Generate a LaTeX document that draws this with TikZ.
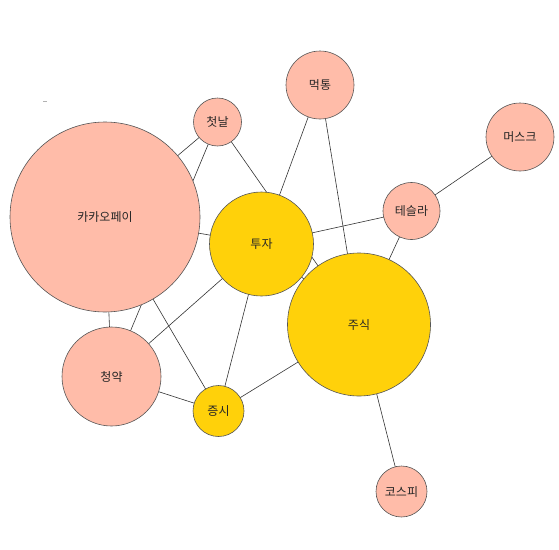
\documentclass[tikz,border=0pt]{standalone}
\usepackage{fontspec}
\setmainfont{Noto Sans CJK KR}
\definecolor{pinkfill}{HTML}{FFBCA9}
\definecolor{goldfill}{HTML}{FFD10A}
\definecolor{rim}{HTML}{555555}
\pgfdeclarelayer{bg}
\pgfsetlayers{bg,main}
\begin{document}
\begin{tikzpicture}[x=1pt,y=-1pt,
  vtx/.style={circle,draw=rim,line width=0.6pt,inner sep=0pt,text=black!85,font=\fontsize{12}{14}\selectfont},
  pinkv/.style={vtx,fill=pinkfill},
  goldv/.style={vtx,fill=goldfill},
  link/.style={draw=black!80,line width=0.6pt}]
\useasboundingbox (0,0) rectangle (559,549);
\node[pinkv,minimum size=190pt] (kakao) at (105,217) {카카오페이};
\node[pinkv,minimum size=48pt] (first) at (217.5,122) {첫날};
\node[pinkv,minimum size=68pt] (outage) at (320,85) {먹통};
\node[pinkv,minimum size=68pt] (musk) at (520,137) {머스크};
\node[pinkv,minimum size=57pt] (tesla) at (411.5,211) {테슬라};
\node[goldv,minimum size=104pt] (invest) at (261.5,244) {투자};
\node[goldv,minimum size=143pt] (stock) at (359,324.5) {주식};
\node[pinkv,minimum size=99pt] (sub) at (111.5,376.5) {청약};
\node[goldv,minimum size=51pt] (market) at (218.5,411) {증시};
\node[pinkv,minimum size=51pt] (kospi) at (401.5,491.5) {코스피};
\draw[gray!60,line width=0.8pt] (43,101) -- (47,101);
\begin{pgfonlayer}{bg}
\draw[link] (first.center) -- (kakao.center);
\draw[link] (first.center) -- (sub.center);
\draw[link] (first.center) -- (stock.center);
\draw[link] (outage.center) -- (invest.center);
\draw[link] (outage.center) -- (stock.center);
\draw[link] (musk.center) -- (tesla.center);
\draw[link] (tesla.center) -- (invest.center);
\draw[link] (tesla.center) -- (stock.center);
\draw[link] (kakao.center) -- (invest.center);
\draw[link] (kakao.center) -- (sub.center);
\draw[link] (kakao.center) -- (market.center);
\draw[link] (invest.center) -- (stock.center);
\draw[link] (invest.center) -- (sub.center);
\draw[link] (invest.center) -- (market.center);
\draw[link] (sub.center) -- (market.center);
\draw[link] (market.center) -- (stock.center);
\draw[link] (stock.center) -- (kospi.center);
\end{pgfonlayer}
\end{tikzpicture}
\end{document}
